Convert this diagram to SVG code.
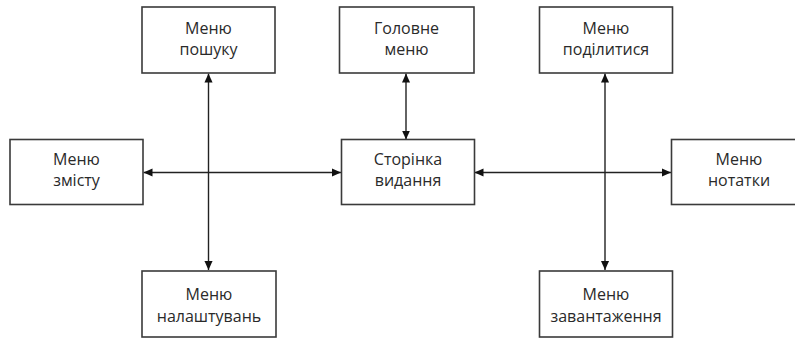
<svg xmlns="http://www.w3.org/2000/svg" width="795" height="341" viewBox="0 0 795 341">
<style>
.box{fill:#fff;stroke:#3a3a3a;stroke-width:1.6}
.t{font-family:"Open Sans","Noto Sans",sans-serif;font-size:16px;fill:#2a2a2a;text-anchor:middle}
.c{stroke:#222;stroke-width:1.4;fill:none;marker-start:url(#a);marker-end:url(#a)}
</style>
<defs>
<marker id="a" viewBox="0 0 10 10" refX="10" refY="5" markerWidth="9" markerHeight="9" markerUnits="userSpaceOnUse" orient="auto-start-reverse">
<path d="M0,0.5 L10,5 L0,9.5 Z" fill="#111"/>
</marker>
</defs>
<rect width="795" height="341" fill="#fff"/>
<g id="connectors">
<line class="c" x1="208.5" y1="73.5" x2="208.5" y2="270"/>
<line class="c" x1="605" y1="73.5" x2="605" y2="270"/>
<line class="c" x1="406" y1="73.5" x2="406" y2="139.5"/>
<line class="c" x1="143.5" y1="172.5" x2="341" y2="172.5"/>
<line class="c" x1="474.5" y1="172.5" x2="671" y2="172.5"/>
</g>
<g id="search"><rect class="box" x="142" y="7" width="133" height="66"/><text class="t" x="208.5" y="33.5">Меню</text><text class="t" x="208.5" y="55">пошуку</text></g>
<g id="main"><rect class="box" x="339.5" y="7" width="134.5" height="66"/><text class="t" x="406.5" y="33.5">Головне</text><text class="t" x="406.5" y="55">меню</text></g>
<g id="share"><rect class="box" x="539.5" y="7" width="133" height="66"/><text class="t" x="606" y="33.5">Меню</text><text class="t" x="606" y="55">поділитися</text></g>
<g id="contents"><rect class="box" x="10" y="139.5" width="133" height="65"/><text class="t" x="76.5" y="164.5">Меню</text><text class="t" x="76.5" y="186">змісту</text></g>
<g id="page"><rect class="box" x="341.5" y="139.5" width="133" height="65"/><text class="t" x="408" y="164.5">Сторінка</text><text class="t" x="408" y="186">видання</text></g>
<g id="notes"><rect class="box" x="671.5" y="139.5" width="134" height="65"/><text class="t" x="739" y="164.5">Меню</text><text class="t" x="739" y="186">нотатки</text></g>
<g id="settings"><rect class="box" x="142" y="271" width="134" height="66"/><text class="t" x="209" y="299.5">Меню</text><text class="t" x="209" y="321.5">налаштувань</text></g>
<g id="download"><rect class="box" x="539.5" y="271" width="133" height="66"/><text class="t" x="606" y="299.5">Меню</text><text class="t" x="606" y="321.5">завантаження</text></g>
</svg>
